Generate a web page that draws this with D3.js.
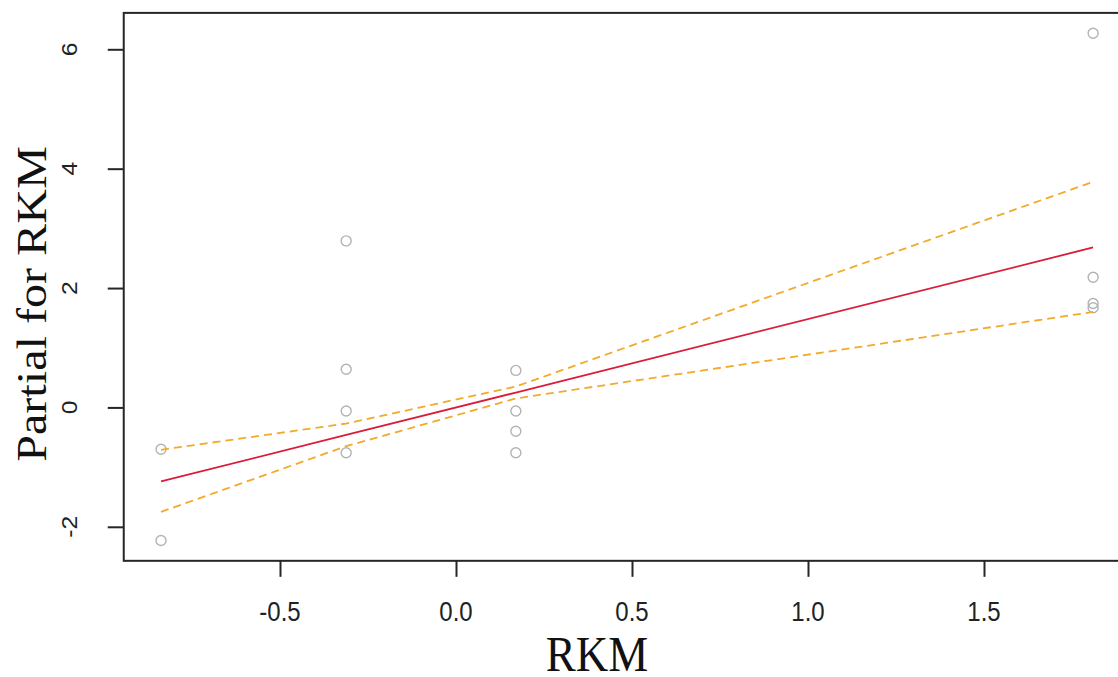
<!DOCTYPE html>
<html>
<head>
<meta charset="utf-8">
<script src="https://cdn.jsdelivr.net/npm/d3@7"></script>
<style>
  html, body { margin: 0; padding: 0; background: #fff; }
  svg { display: block; }
</style>
</head>
<body>
<svg id="chart" width="1118" height="677"></svg>
<script>
// ---- data ----
const pointX = [-0.838, -0.838, -0.312, -0.312, -0.312, -0.312, 0.170, 0.170, 0.170, 0.170, 1.810, 1.810, 1.810, 1.810];
const pointY = [-0.70, -2.23, 2.79, 0.64, -0.06, -0.76, 0.62, -0.06, -0.40, -0.76, 6.27, 2.18, 1.74, 1.67];
const termX = [-0.838, -0.312, 0.170, 1.810];
const fitY = [-1.24, -0.46, 0.25, 2.68];
const upperY = [-0.71, -0.27, 0.35, 3.78];
const lowerY = [-1.75, -0.65, 0.15, 1.60];
const xTicks = [-0.5, 0.0, 0.5, 1.0, 1.5];
const xTickLabels = ["-0.5", "0.0", "0.5", "1.0", "1.5"];
const yTicks = [-2, 0, 2, 4, 6];
const yTickLabels = ["-2", "0", "2", "4", "6"];
const xTitle = "RKM";
const yTitle = "Partial for RKM";

(function () {
const svg = d3.select("#chart");
const stretch = 1.12; // vertical stretch of text in the reference picture

const x = d3.scaleLinear().domain([-0.5, 1.5]).range([280, 984]);
const y = d3.scaleLinear().domain([-2, 6]).range([526.8, 49.3]);

// R-style 4% extended limits
const xr = d3.extent(pointX), yr = d3.extent(pointY);
const xlim = [xr[0] - 0.04 * (xr[1] - xr[0]), xr[1] + 0.04 * (xr[1] - xr[0])];
const ylim = [yr[0] - 0.04 * (yr[1] - yr[0]), yr[1] + 0.04 * (yr[1] - yr[0])];
const pL = x(xlim[0]), pR = x(xlim[1]);
const pT = y(ylim[1]), pB = y(ylim[0]);

svg.append("defs").append("clipPath").attr("id", "plotclip")
  .append("rect").attr("x", pL).attr("y", pT)
  .attr("width", pR - pL).attr("height", pB - pT);

const plot = svg.append("g").attr("clip-path", "url(#plotclip)");

plot.selectAll("circle.pt").data(pointX.map((d, i) => [d, pointY[i]]))
  .enter().append("circle").attr("class", "pt")
  .attr("cx", d => x(d[0])).attr("cy", d => y(d[1])).attr("r", 5)
  .attr("fill", "none").attr("stroke", "#b3b3b3").attr("stroke-width", 1.4);

const line = d3.line().x(d => x(d[0])).y(d => y(d[1]));
const seq = arr => termX.map((d, i) => [d, arr[i]]);

plot.append("path").attr("d", line(seq(upperY)))
  .attr("fill", "none").attr("stroke", "#f2aa2a").attr("stroke-width", 1.8)
  .attr("stroke-dasharray", "8,5");
plot.append("path").attr("d", line(seq(lowerY)))
  .attr("fill", "none").attr("stroke", "#f2aa2a").attr("stroke-width", 1.8)
  .attr("stroke-dasharray", "8,5");
plot.append("path").attr("d", line(seq(fitY)))
  .attr("fill", "none").attr("stroke", "#d91c3a").attr("stroke-width", 1.8);

svg.append("rect").attr("x", pL).attr("y", pT)
  .attr("width", pR - pL).attr("height", pB - pT)
  .attr("fill", "none").attr("stroke", "#262626").attr("stroke-width", 2);

const xAxis = svg.append("g").attr("transform", `translate(0,${pB})`)
  .call(d3.axisBottom(x).tickValues(xTicks).tickSize(16).tickFormat(""));
const yAxis = svg.append("g").attr("transform", `translate(${pL},0)`)
  .call(d3.axisLeft(y).tickValues(yTicks).tickSize(16).tickFormat(""));
[xAxis, yAxis].forEach(a => {
  a.select(".domain").remove();
  a.selectAll(".tick line").attr("stroke", "#262626").attr("stroke-width", 2);
});

svg.selectAll("text.xt").data(xTicks).enter().append("text").attr("class", "xt")
  .attr("transform", d => `translate(${x(d)},621) scale(1,${stretch})`)
  .attr("text-anchor", "middle")
  .attr("font-family", "Liberation Sans, Arial, sans-serif").attr("font-size", 24)
  .attr("fill", "#222")
  .text((d, i) => xTickLabels[i]);

svg.selectAll("text.yt").data(yTicks).enter().append("text").attr("class", "yt")
  .attr("transform", d => `translate(77,${y(d)}) scale(1,${stretch}) rotate(-90)`)
  .attr("text-anchor", "middle")
  .attr("font-family", "Liberation Sans, Arial, sans-serif").attr("font-size", 22)
  .attr("fill", "#222")
  .text((d, i) => yTickLabels[i]);

svg.append("text")
  .attr("transform", `translate(597,671) scale(1,${stretch})`)
  .attr("text-anchor", "middle")
  .attr("font-family", "Liberation Serif, Times New Roman, serif").attr("font-size", 45)
  .attr("fill", "#111").text(xTitle);

svg.append("text")
  .attr("transform", `translate(46,304) scale(1,${stretch}) rotate(-90)`)
  .attr("text-anchor", "middle")
  .attr("font-family", "Liberation Serif, Times New Roman, serif").attr("font-size", 43)
  .attr("fill", "#111").text(yTitle);
})();
</script>
</body>
</html>
